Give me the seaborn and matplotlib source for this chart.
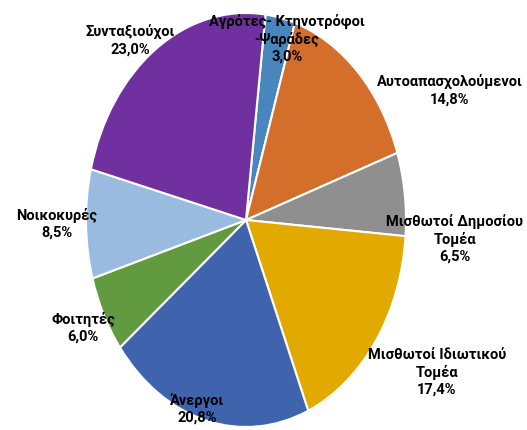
import matplotlib
matplotlib.use("Agg")
import matplotlib.pyplot as plt
import seaborn as sns

# data, clockwise from near 12 o'clock
categories = [
    "Αγρότες- Κτηνοτρόφοι\n-Ψαράδες",
    "Αυτοαπασχολούμενοι",
    "Μισθωτοί Δημοσίου\nΤομέα",
    "Μισθωτοί Ιδιωτικού\nΤομέα",
    "Άνεργοι",
    "Φοιτητές",
    "Νοικοκυρές",
    "Συνταξιούχοι",
]
shares = [3.0, 14.8, 6.5, 17.4, 20.8, 6.0, 8.5, 23.0]
colors = ["#4A86BE", "#D46F2B", "#8F8F8F", "#E2AA00",
          "#3F63AC", "#629B3F", "#9ABBE0", "#7030A0"]

# label anchor points in pixels (centre of text block)
label_px = [(287, 39), (450, 91), (455, 239), (437, 372),
            (197, 409), (83, 328), (57, 224), (130, 41)]

sns.set_theme(style="white")
plt.rcParams["font.family"] = ["Roboto", "DejaVu Sans"]

W, H = 527, 431
fig = plt.figure(figsize=(W / 100, H / 100), dpi=100)
cx, cy, rx, ry = 246, 221, 160, 207
ax = fig.add_axes([(cx - rx) / W, (H - cy - ry) / H, 2 * rx / W, 2 * ry / H])

ax.pie(shares, colors=colors, startangle=83, counterclock=False,
       wedgeprops=dict(edgecolor="white", linewidth=1.5))
ax.set_aspect("auto")
ax.set_xlim(-1, 1)
ax.set_ylim(-1, 1)

for name, val, (px, py) in zip(categories, shares, label_px):
    txt = f"{name}\n{val:.1f}%".replace(".", ",")
    fig.text(px / W, 1 - py / H, txt, ha="center", va="center",
             fontsize=10.5, fontweight="bold", color="black",
             linespacing=1.25)

fig.savefig("out.png", dpi=100)
